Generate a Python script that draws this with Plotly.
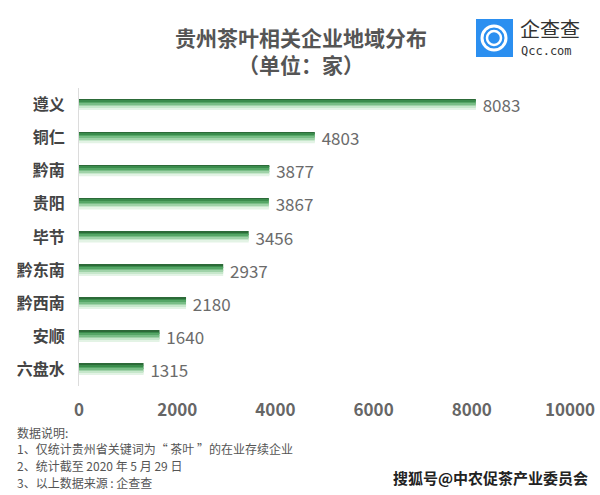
import plotly.graph_objects as go

categories = ["遵义", "铜仁", "黔南", "贵阳", "毕节", "黔东南", "黔西南", "安顺", "六盘水"]
values = [8083, 4803, 3877, 3867, 3456, 2937, 2180, 1640, 1315]
tick_vals = [0, 2000, 4000, 6000, 8000, 10000]
tick_text = ["0", "2000", "4000", "6000", "8000", "10000"]
title_text = "贵州茶叶相关企业地域分布<br>（单位：家）"
notes = ["数据说明:", "1、仅统计贵州省关键词为“ 茶叶 ”的在业存续企业",
         "2、统计截至 2020 年 5 月 29 日", "3、以上数据来源 : 企查查"]

FONT = "Noto Sans CJK SC"
fig = go.Figure()

# gradient approximation: stacked strips from dark (top) to light (bottom)
strip_colors = ["#2c6a38", "#3a8c4c", "#55a666", "#78bd86", "#9fd2a8", "#c6e7cb", "#e3f3e5"]
bar_w = 0.33
n = len(strip_colors)
sw = bar_w / n
for i, c in enumerate(strip_colors):
    fig.add_trace(go.Bar(
        x=values, y=categories, orientation="h",
        width=sw * 1.02, offset=-bar_w / 2 + i * sw,
        marker=dict(color=c, line=dict(width=0)),
        hoverinfo="skip", showlegend=False,
    ))

# value labels via an invisible full-height bar
fig.add_trace(go.Bar(
    x=values, y=categories, orientation="h",
    width=bar_w, marker=dict(color="rgba(0,0,0,0)", line=dict(width=0)),
    text=[" " + str(v) for v in values], textposition="outside", constraintext="none",
    textfont=dict(family=FONT, size=17, color="#6b6b6b"),
    cliponaxis=False, showlegend=False,
))

fig.update_layout(
    width=600, height=495, barmode="overlay",
    margin=dict(l=79, r=30, t=88, b=109),
    plot_bgcolor="white", paper_bgcolor="white",
    font=dict(family=FONT),
    xaxis=dict(range=[0, 10000], tickvals=tick_vals, ticktext=tick_text,
               showgrid=False, zeroline=False, automargin=False,
               showline=False, ticks="", ticklabelstandoff=12,
               tickfont=dict(family=FONT, size=17, color="#666666", weight="bold")),
    yaxis=dict(autorange="reversed", showgrid=False, zeroline=False, automargin=False,
               showline=True, linecolor="#dcdcdc", linewidth=1, ticks="",
               ticklabelstandoff=10,
               tickfont=dict(family=FONT, size=16, color="#444444", weight="bold")),
)

def px_x(x):
    return (x - 79) / 491

def px_y(y):
    return (386 - y) / 298

# title
fig.add_annotation(text=title_text, xref="paper", yref="paper", x=px_x(301), y=px_y(51),
                   xanchor="center", yanchor="middle", showarrow=False, align="center",
                   font=dict(family=FONT, size=21, color="#555555", weight="bold"))

# logo
fig.add_shape(type="rect", xref="paper", yref="paper", x0=px_x(476), x1=px_x(513),
              y0=px_y(57), y1=px_y(19),
              fillcolor="#2b8ff0", line=dict(width=0), layer="above")
for r, w in [(12, 3), (7, 2.5)]:
    cx, cy = 494, 38
    fig.add_shape(type="circle", xref="paper", yref="paper",
                  x0=px_x(cx - r), x1=px_x(cx + r),
                  y0=px_y(cy + r), y1=px_y(cy - r),
                  line=dict(color="white", width=w), fillcolor="rgba(0,0,0,0)")
fig.add_annotation(text="企查查", xref="paper", yref="paper", x=px_x(518), y=px_y(28),
                   xanchor="left", yanchor="middle", showarrow=False,
                   font=dict(family=FONT, size=20, color="#333333"))
fig.add_annotation(text="Qcc.com", xref="paper", yref="paper", x=px_x(519), y=px_y(51),
                   xanchor="left", yanchor="middle", showarrow=False,
                   font=dict(family="DejaVu Sans Mono", size=12, color="#333333"))

# notes
for i, t in enumerate(notes):
    fig.add_annotation(text=t, xref="paper", yref="paper", x=px_x(15),
                       y=px_y(432 + i * 16.8),
                       xanchor="left", yanchor="middle", showarrow=False,
                       font=dict(family=FONT, size=12, color="#555555"))

# watermark
fig.add_annotation(text="搜狐号@中农促茶产业委员会", xref="paper", yref="paper",
                   x=px_x(590), y=px_y(477),
                   xanchor="right", yanchor="middle", showarrow=False,
                   font=dict(family=FONT, size=15, color="#222222", weight="bold"))

fig.write_html("out.html")
